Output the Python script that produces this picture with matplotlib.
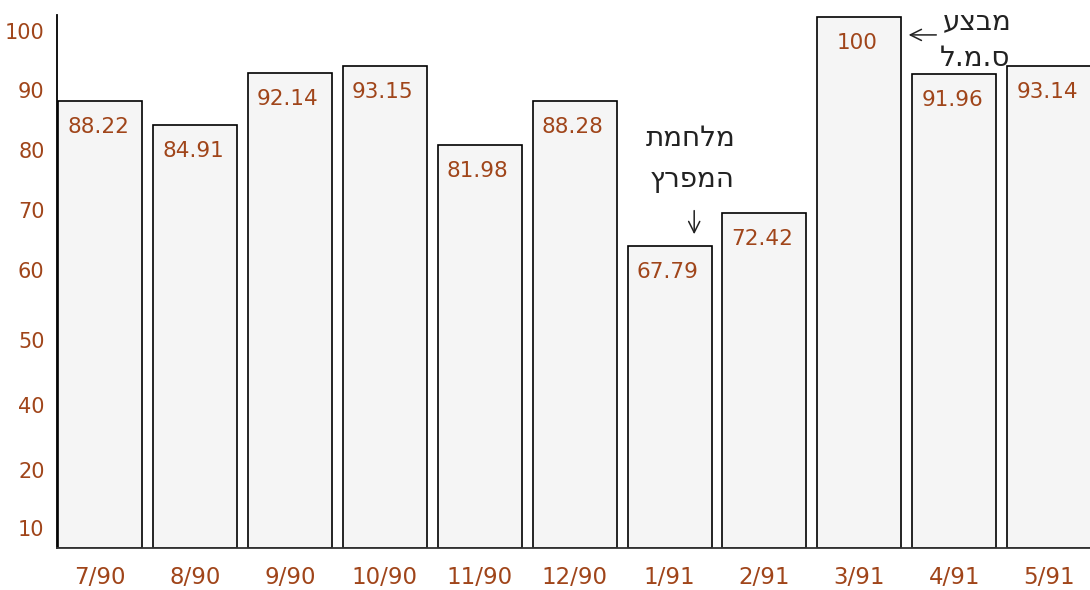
import matplotlib
matplotlib.use('Agg')
import matplotlib.pyplot as plt
import numpy as np

# Monthly index, 7/90 - 5/91
months = ['7/90', '8/90', '9/90', '10/90', '11/90', '12/90',
          '1/91', '2/91', '3/91', '4/91', '5/91']
values = [88.22, 84.91, 92.14, 93.15, 81.98, 88.28,
          67.79, 72.42, 100, 91.96, 93.14]

# printed axis labels (the original axis is not linear)
ytick_labels = ['100', '90', '80', '70', '60', '50', '40', '20', '10']
ytick_pos = [98.0, 89.8, 81.3, 72.9, 64.5, 54.6, 45.5, 36.3, 28.2]

# annotations (logical Hebrew text)
note_war = ['מלחמת', 'המפרץ']
note_op = ['מבצע', 'ס.מ.ל']

TXT = '#a0451a'
BASE = 25.4


def heb(s):
    # matplotlib has no bidi support: reverse for visual order
    return s[::-1]


fig = plt.figure(figsize=(10.9, 5.9), dpi=100)
ax = fig.add_axes([0.0523, 0.0712, 0.9477, 0.9034])

x = np.arange(len(months))
heights = np.array(values) - BASE
ax.bar(x, heights, bottom=BASE, width=0.885, color='#f5f5f5',
       edgecolor='black', linewidth=1.2, zorder=2)

for xi, v in zip(x, values):
    ax.annotate(f'{v:g}', xy=(xi, v), xytext=(-2, -26),
                textcoords='offset pixels', ha='center', va='center',
                fontsize=15.5, color=TXT, zorder=3)

ax.set_xlim(-0.453, 10.43)
ax.set_ylim(BASE, 100.3)

ax.set_xticks(x)
ax.set_xticklabels(months, fontsize=16.5, color=TXT)
ax.set_yticks(ytick_pos)
ax.set_yticklabels(ytick_labels, fontsize=15, color=TXT)
ax.tick_params(axis='both', length=0)
ax.tick_params(axis='y', pad=9)
ax.tick_params(axis='x', pad=13)

for side in ['top', 'right']:
    ax.spines[side].set_visible(False)
ax.spines['left'].set_linewidth(1.3)
ax.spines['bottom'].set_linewidth(1.3)
ax.spines['bottom'].set_color('#333333')

hfont = dict(ha='center', va='center', fontsize=20,
             family='DejaVu Sans', color='#222222')

# Gulf war note, arrow down to 1/91
ax.text(6.22, 83.0, heb(note_war[0]), **hfont)
ax.text(6.24, 77.3, heb(note_war[1]), **hfont)
ax.annotate('', xy=(6.26, 69.1), xytext=(6.26, 73.2),
            arrowprops=dict(arrowstyle='->', color='#222222', lw=1.1,
                            mutation_scale=20))

# operation note, arrow left to 3/91
ax.text(9.24, 99.5, heb(note_op[0]), clip_on=False, **hfont)
ax.text(9.22, 94.2, heb(note_op[1]), **hfont)
ax.annotate('', xy=(8.49, 97.5), xytext=(8.84, 97.5),
            arrowprops=dict(arrowstyle='->', color='#222222', lw=1.1,
                            mutation_scale=20))

fig.savefig('out.png', dpi=100, facecolor='white')
